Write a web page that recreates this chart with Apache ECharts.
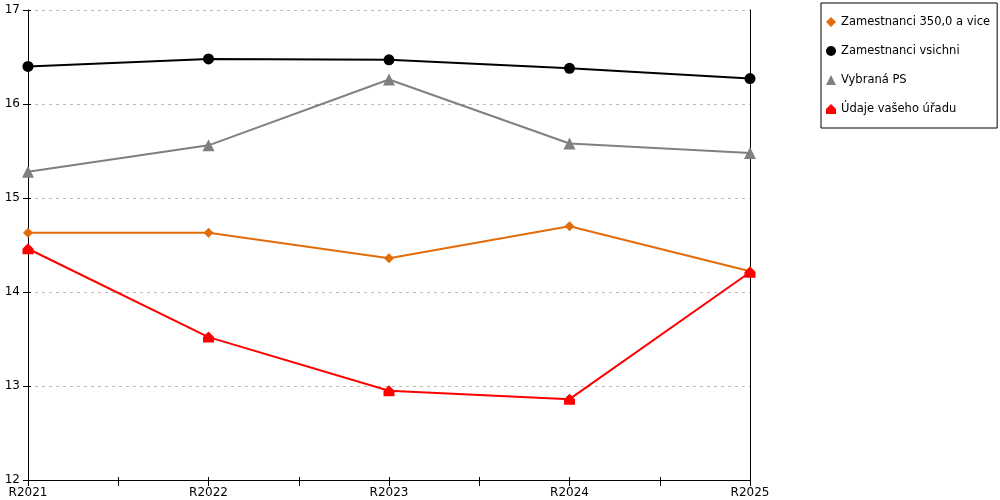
<!DOCTYPE html>
<html>
<head>
<meta charset="utf-8">
<script src="https://cdn.jsdelivr.net/npm/echarts@6/dist/echarts.min.js"></script>
<style>
  html, body { margin: 0; padding: 0; background: #fff; }
  #chart { width: 1000px; height: 500px; }
</style>
</head>
<body>
<div id="chart"></div>
<script>
  // data
  var categories = ["R2021", "R2022", "R2023", "R2024", "R2025"];
  var seriesNames = ["Zamestnanci 350,0 a vice", "Zamestnanci vsichni", "Vybraná PS", "Údaje vašeho úřadu"];
  var zam350 = [14.63, 14.63, 14.36, 14.70, 14.22];
  var zamAll = [16.40, 16.48, 16.47, 16.38, 16.27];
  var vybranaPS = [15.28, 15.56, 16.26, 15.58, 15.48];
  var vasUrad = [14.46, 13.52, 12.95, 12.86, 14.21];
  var yTicks = [12, 13, 14, 15, 16, 17];

  var font = "DejaVu Sans, Verdana, sans-serif";
  var house = "path://M5,0 L10,5 L10,10 L0,10 L0,5 Z";
  // helper slots: every category plus the midpoints, used only for tick marks
  var tickSlots = [];
  for (var i = 0; i < categories.length * 2 - 1; i++) tickSlots.push(String(i));

  function line(name, data, color, symbol, size) {
    return {
      name: name, type: "line", data: data,
      xAxisIndex: 0, yAxisIndex: 0,
      symbol: symbol, symbolSize: size,
      lineStyle: { color: color, width: 2 },
      itemStyle: { color: color },
      animation: false
    };
  }

  var chart = echarts.init(document.getElementById("chart"), null, { renderer: "canvas" });
  chart.setOption({
    textStyle: { fontFamily: font },
    grid: { left: 28, right: 250, top: 10, bottom: 20 },
    legend: {
      orient: "vertical", left: 821, top: 3,
      borderColor: "#000", borderWidth: 1, borderRadius: 0,
      padding: [13, 7, 13, 5],
      itemWidth: 10, itemHeight: 10, itemGap: 17,
      textStyle: { color: "#000", fontSize: 11.5, fontFamily: font },
      data: [
        { name: seriesNames[0], icon: "diamond" },
        { name: seriesNames[1], icon: "circle" },
        { name: seriesNames[2], icon: "triangle" },
        { name: seriesNames[3], icon: house }
      ]
    },
    xAxis: [{
      type: "category", data: categories, boundaryGap: false,
      axisLine: { lineStyle: { color: "#000", width: 1 } },
      axisTick: { show: false },
      axisLabel: { color: "#000", fontSize: 12, margin: 7, fontFamily: font },
      splitLine: { show: false }
    }, {
      type: "category", data: tickSlots, boundaryGap: false, position: "bottom",
      axisLine: { show: false },
      axisTick: { show: true, interval: 0, length: 6, lineStyle: { color: "#000" } },
      axisLabel: { show: false }
    }, {
      type: "category", data: tickSlots, boundaryGap: false, position: "bottom",
      axisLine: { show: false },
      axisTick: { show: true, interval: 0, inside: true, length: 3, lineStyle: { color: "#000" } },
      axisLabel: { show: false }
    }],
    yAxis: [{
      type: "value", min: yTicks[0], max: yTicks[yTicks.length - 1], interval: 1,
      position: "left",
      axisLine: { show: true, lineStyle: { color: "#000", width: 1 } },
      axisTick: { show: true, length: 5, lineStyle: { color: "#000" } },
      axisLabel: { color: "#000", fontSize: 12, margin: 8, fontFamily: font },
      splitLine: { show: true, lineStyle: { color: "#bbb", type: [3, 4], width: 1 } }
    }, {
      type: "value", min: yTicks[0], max: yTicks[yTicks.length - 1], interval: 1,
      position: "left",
      axisLine: { show: false },
      axisTick: { show: true, inside: true, length: 3, lineStyle: { color: "#000" } },
      axisLabel: { show: false },
      splitLine: { show: false }
    }, {
      type: "value", min: yTicks[0], max: yTicks[yTicks.length - 1], interval: 1,
      position: "right",
      axisLine: { show: true, lineStyle: { color: "#000", width: 1 } },
      axisTick: { show: false },
      axisLabel: { show: false },
      splitLine: { show: false }
    }],
    series: [
      line(seriesNames[0], zam350, "#e36c09", "diamond", 10),
      line(seriesNames[1], zamAll, "#000000", "circle", 11),
      line(seriesNames[2], vybranaPS, "#808080", "triangle", 12),
      line(seriesNames[3], vasUrad, "#ff0000", house, 11)
    ]
  });
</script>
</body>
</html>
